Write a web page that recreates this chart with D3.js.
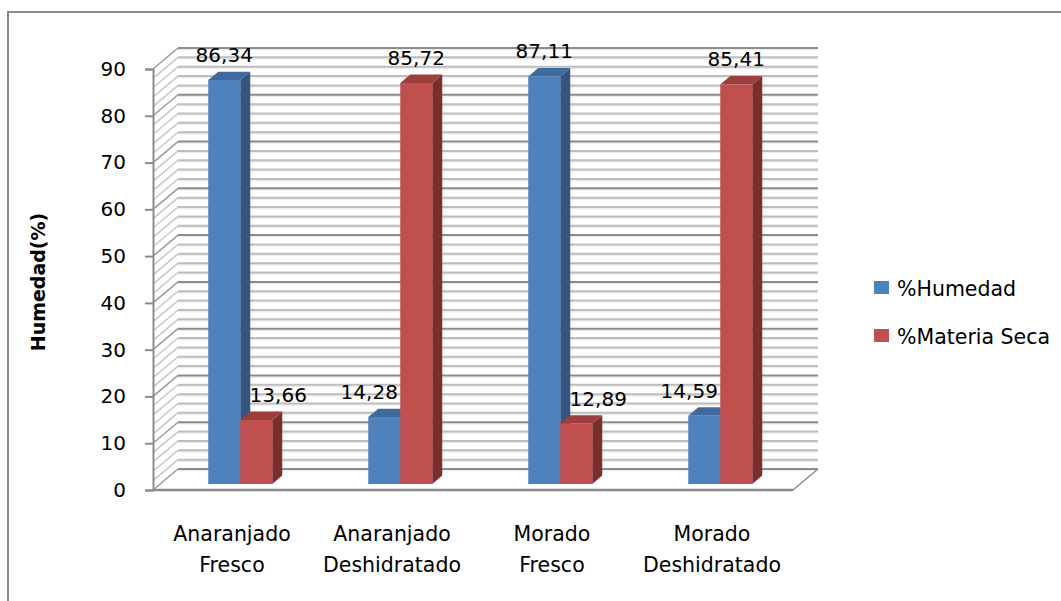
<!DOCTYPE html>
<html>
<head>
<meta charset="utf-8">
<script src="https://cdn.jsdelivr.net/npm/d3@7"></script>
<style>
  html, body { margin: 0; padding: 0; background: #fff; }
  svg { display: block; }
  text { font-family: "DejaVu Sans", sans-serif; fill: #000; }
</style>
</head>
<body>
<svg id="chart" width="1061" height="601"></svg>
<script>
// ---- data ----
const categories = [
  ["Anaranjado", "Fresco"],
  ["Anaranjado", "Deshidratado"],
  ["Morado", "Fresco"],
  ["Morado", "Deshidratado"]
];
const seriesNames = ["%Humedad", "%Materia Seca"];
const humedad = [86.34, 14.28, 87.11, 14.59];
const materiaSeca = [13.66, 85.72, 12.89, 85.41];
const yTicks = [0, 10, 20, 30, 40, 50, 60, 70, 80, 90];
const yMinorStep = 2;
const yTitle = "Humedad(%)";

// ---- styles ----
const colors = [
  { front: "#4f81bd", side: "#34557f", top: "#3f6a9e" },
  { front: "#c0504d", side: "#7a2f2d", top: "#9c3f3c" }
];

const svg = d3.select("#chart");

// frame
svg.append("rect").attr("x", 8).attr("y", 12).attr("width", 1070).attr("height", 600)
  .attr("fill", "none").attr("stroke", "#8a8a8a").attr("stroke-width", 2);

// projection: front plane scales + depth offset
const depthDX = 25, depthDY = -21;
const x = d3.scaleBand().domain(d3.range(categories.length)).range([153, 793]);
const y = d3.scaleLinear().domain([0, 90]).range([490, 69]);
const P = (px, v, z) => [px + z * depthDX, y(v) + z * depthDY];

const g = svg.append("g");

// back wall grid lines (minor then major)
const allGrid = d3.range(0, 90 + 0.001, yMinorStep);
const xL = x.range()[0], xR = x.range()[1];
allGrid.forEach(v => {
  const major = yTicks.includes(v);
  const a = P(xL, v, 0), b = P(xL, v, 1), c = P(xR, v, 1);
  g.append("line").attr("x1", a[0]).attr("y1", a[1]).attr("x2", b[0]).attr("y2", b[1])
    .attr("stroke", major ? "#9a9a9a" : "#c8c8c8").attr("stroke-width", 1.5);
  g.append("line").attr("x1", b[0]).attr("y1", b[1] + 1.5).attr("x2", c[0]).attr("y2", c[1] + 1.5)
    .attr("stroke", "#ececec").attr("stroke-width", 1.5);
  g.append("line").attr("x1", b[0]).attr("y1", b[1]).attr("x2", c[0]).attr("y2", c[1])
    .attr("stroke", major ? "#8c8c8c" : "#bdbdbd").attr("stroke-width", 2);
});

// floor right edge and front edge
const f0 = P(xR, 0, 0), f1 = P(xR, 0, 1);
g.append("line").attr("x1", f0[0]).attr("y1", f0[1]).attr("x2", f1[0]).attr("y2", f1[1])
  .attr("stroke", "#8c8c8c").attr("stroke-width", 1.5);
g.append("line").attr("x1", xL).attr("y1", y(0)).attr("x2", xR).attr("y2", y(0))
  .attr("stroke", "#8c8c8c").attr("stroke-width", 2.5);

// y axis
const axis = d3.axisLeft(y).tickValues(yTicks).tickSize(8).tickPadding(19);
const ax = svg.append("g").attr("transform", `translate(${xL},0)`).call(axis);
ax.select(".domain").attr("stroke", "#8c8c8c").attr("stroke-width", 2);
ax.selectAll(".tick line").attr("stroke", "#8c8c8c").attr("stroke-width", 2);
ax.selectAll(".tick text").attr("font-size", 20).attr("font-family", "DejaVu Sans").attr("fill", "#000");

// bars
const barW = x.bandwidth() * 0.2;
const zFront = 0.29, zBack = 0.69;
const series = [humedad, materiaSeca];
const barsG = svg.append("g");
const fmt = v => v.toFixed(2).replace(".", ",");

categories.forEach((cat, i) => {
  const cx = x(i) + x.bandwidth() / 2;
  series.forEach((vals, s) => {
    const v = vals[i];
    const x0 = s === 0 ? cx - barW : cx;
    const x1 = x0 + barW;
    const fl = P(x0, 0, zFront), fr = P(x1, 0, zFront);
    const tl = P(x0, v, zFront), tr = P(x1, v, zFront);
    const btl = P(x0, v, zBack), btr = P(x1, v, zBack), bbr = P(x1, 0, zBack);
    const pts = a => a.map(p => p.join(",")).join(" ");
    barsG.append("polygon").attr("points", pts([tr, btr, bbr, fr])).attr("fill", colors[s].side);
    barsG.append("polygon").attr("points", pts([tl, btl, btr, tr])).attr("fill", colors[s].top);
    barsG.append("polygon").attr("points", pts([fl, tl, tr, fr])).attr("fill", colors[s].front);
  });
});

// data labels (drawn after all bars)
categories.forEach((cat, i) => {
  const cx = x(i) + x.bandwidth() / 2;
  series.forEach((vals, s) => {
    const v = vals[i];
    const x0 = s === 0 ? cx - barW : cx;
    const front = P(x0 + barW / 2, v, zFront);
    const shift = v < 50 ? (s === 0 ? -15 : 22) : 0;
    svg.append("text").attr("x", front[0] + shift).attr("y", front[1] - 18)
      .attr("text-anchor", "middle").attr("font-size", 20).text(fmt(v));
  });
});

// category labels
categories.forEach((cat, i) => {
  const cx = x(i) + x.bandwidth() / 2;
  const t = svg.append("text").attr("text-anchor", "middle").attr("font-size", 20.5);
  cat.forEach((line, k) => {
    t.append("tspan").attr("x", cx - 1).attr("y", 541 + k * 31).text(line);
  });
});

// y title
svg.append("text").attr("transform", "translate(45,282) rotate(-90)")
  .attr("text-anchor", "middle").attr("font-size", 19).attr("font-weight", "bold")
  .text(yTitle);

// legend
const legend = svg.append("g");
seriesNames.forEach((name, s) => {
  const ly = 281 + s * 48;
  legend.append("rect").attr("x", 874).attr("y", ly).attr("width", 15).attr("height", 13)
    .attr("fill", colors[s].front);
  legend.append("text").attr("x", 897).attr("y", ly + 15).attr("font-size", 20.5).text(name);
});
</script>
</body>
</html>
